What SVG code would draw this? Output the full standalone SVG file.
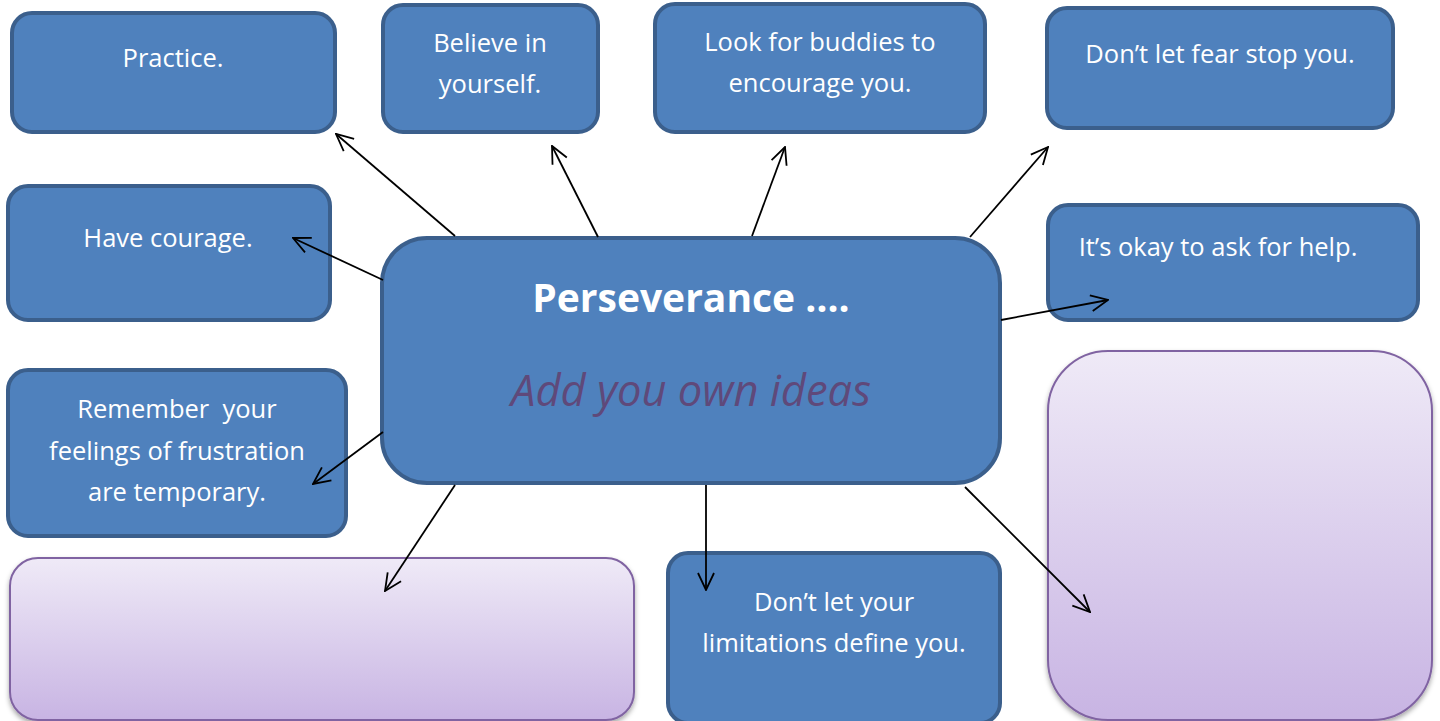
<svg xmlns="http://www.w3.org/2000/svg" width="1440" height="721" viewBox="0 0 1440 721">
  <style>
    .box { fill: #4F81BD; stroke: #3B5F8C; stroke-width: 4; }
    .idea { fill: url(#lilac); stroke: #8064A2; stroke-width: 2; }
    .lbl { font-family: "Open Sans", "Liberation Sans", sans-serif; font-size: 25.5px; fill: #FFFFFF; text-anchor: middle; }
    .title { font-family: "Open Sans", "Liberation Sans", sans-serif; font-size: 39px; font-weight: bold; fill: #FFFFFF; text-anchor: middle; }
    .hint { font-family: "Open Sans", "Liberation Sans", sans-serif; font-size: 43.5px; font-style: italic; fill: #5F497A; text-anchor: middle; }
    .link { stroke: #000000; stroke-width: 1.8; fill: none; marker-end: url(#open); }
  </style>
  <defs>
    <linearGradient id="lilac" x1="0" y1="0" x2="0" y2="1">
      <stop offset="0" stop-color="#EFEAF7"/>
      <stop offset="1" stop-color="#C8B4E3"/>
    </linearGradient>
    <filter id="shade" x="-5%" y="-5%" width="110%" height="115%">
      <feDropShadow dx="0" dy="3" stdDeviation="2.5" flood-color="#000000" flood-opacity="0.35"/>
    </filter>
    <marker id="open" viewBox="0 0 20 20" refX="19" refY="10" markerWidth="20" markerHeight="20" markerUnits="userSpaceOnUse" orient="auto">
      <path d="M2,2 L19,10 L2,18" fill="none" stroke="#000000" stroke-width="1.8"/>
    </marker>
  </defs>

  <rect width="1440" height="721" fill="#FFFFFF"/>

  <g id="practice">
    <rect class="box" x="12" y="13" width="323" height="119" rx="20"/>
    <text class="lbl" x="173" y="67">Practice.</text>
  </g>

  <g id="believe">
    <rect class="box" x="383" y="5" width="215" height="127" rx="20"/>
    <text class="lbl" x="490" y="52">Believe in</text>
    <text class="lbl" x="490" y="93">yourself.</text>
  </g>

  <g id="buddies">
    <rect class="box" x="655" y="4" width="330" height="128" rx="20"/>
    <text class="lbl" x="820" y="51">Look for buddies to</text>
    <text class="lbl" x="820" y="92">encourage you.</text>
  </g>

  <g id="fear">
    <rect class="box" x="1047" y="8" width="346" height="120" rx="20"/>
    <text class="lbl" x="1220" y="63">Don’t let fear stop you.</text>
  </g>

  <g id="courage">
    <rect class="box" x="8" y="186" width="322" height="134" rx="20"/>
    <text class="lbl" x="168" y="247">Have courage.</text>
  </g>

  <g id="help">
    <rect class="box" x="1048" y="205" width="370" height="115" rx="20"/>
    <text class="lbl" x="1218" y="256">It’s okay to ask for help.</text>
  </g>

  <g id="frustration">
    <rect class="box" x="8" y="370" width="338" height="166" rx="20"/>
    <text class="lbl" x="177" y="418" xml:space="preserve">Remember  your</text>
    <text class="lbl" x="177" y="460">feelings of frustration</text>
    <text class="lbl" x="177" y="501">are temporary.</text>
  </g>

  <g id="center">
    <rect class="box" x="382" y="238" width="618" height="245" rx="45"/>
    <text class="title" x="691" y="312">Perseverance ….</text>
    <text class="hint" x="691" y="406">Add you own ideas</text>
  </g>

  <g id="idea-left">
    <rect class="idea" x="10" y="558" width="624" height="162" rx="28" filter="url(#shade)"/>
  </g>

  <g id="limitations">
    <rect class="box" x="668" y="553" width="332" height="170" rx="20"/>
    <text class="lbl" x="834" y="611">Don’t let your</text>
    <text class="lbl" x="834" y="652">limitations define you.</text>
  </g>

  <g id="idea-right">
    <rect class="idea" x="1048" y="351" width="384" height="369" rx="60" filter="url(#shade)"/>
  </g>

  <g id="connectors">
    <line class="link" x1="455" y1="236" x2="336" y2="134"/>
    <line class="link" x1="598" y1="237" x2="552" y2="146"/>
    <line class="link" x1="752" y1="236" x2="785" y2="147"/>
    <line class="link" x1="970" y1="237" x2="1048" y2="147"/>
    <line class="link" x1="383" y1="280" x2="293" y2="238"/>
    <line class="link" x1="1001" y1="320" x2="1108" y2="300"/>
    <line class="link" x1="383" y1="432" x2="313" y2="484"/>
    <line class="link" x1="455" y1="485" x2="385" y2="591"/>
    <line class="link" x1="706" y1="485" x2="706" y2="590"/>
    <line class="link" x1="965" y1="487" x2="1090" y2="612"/>
  </g>
</svg>
